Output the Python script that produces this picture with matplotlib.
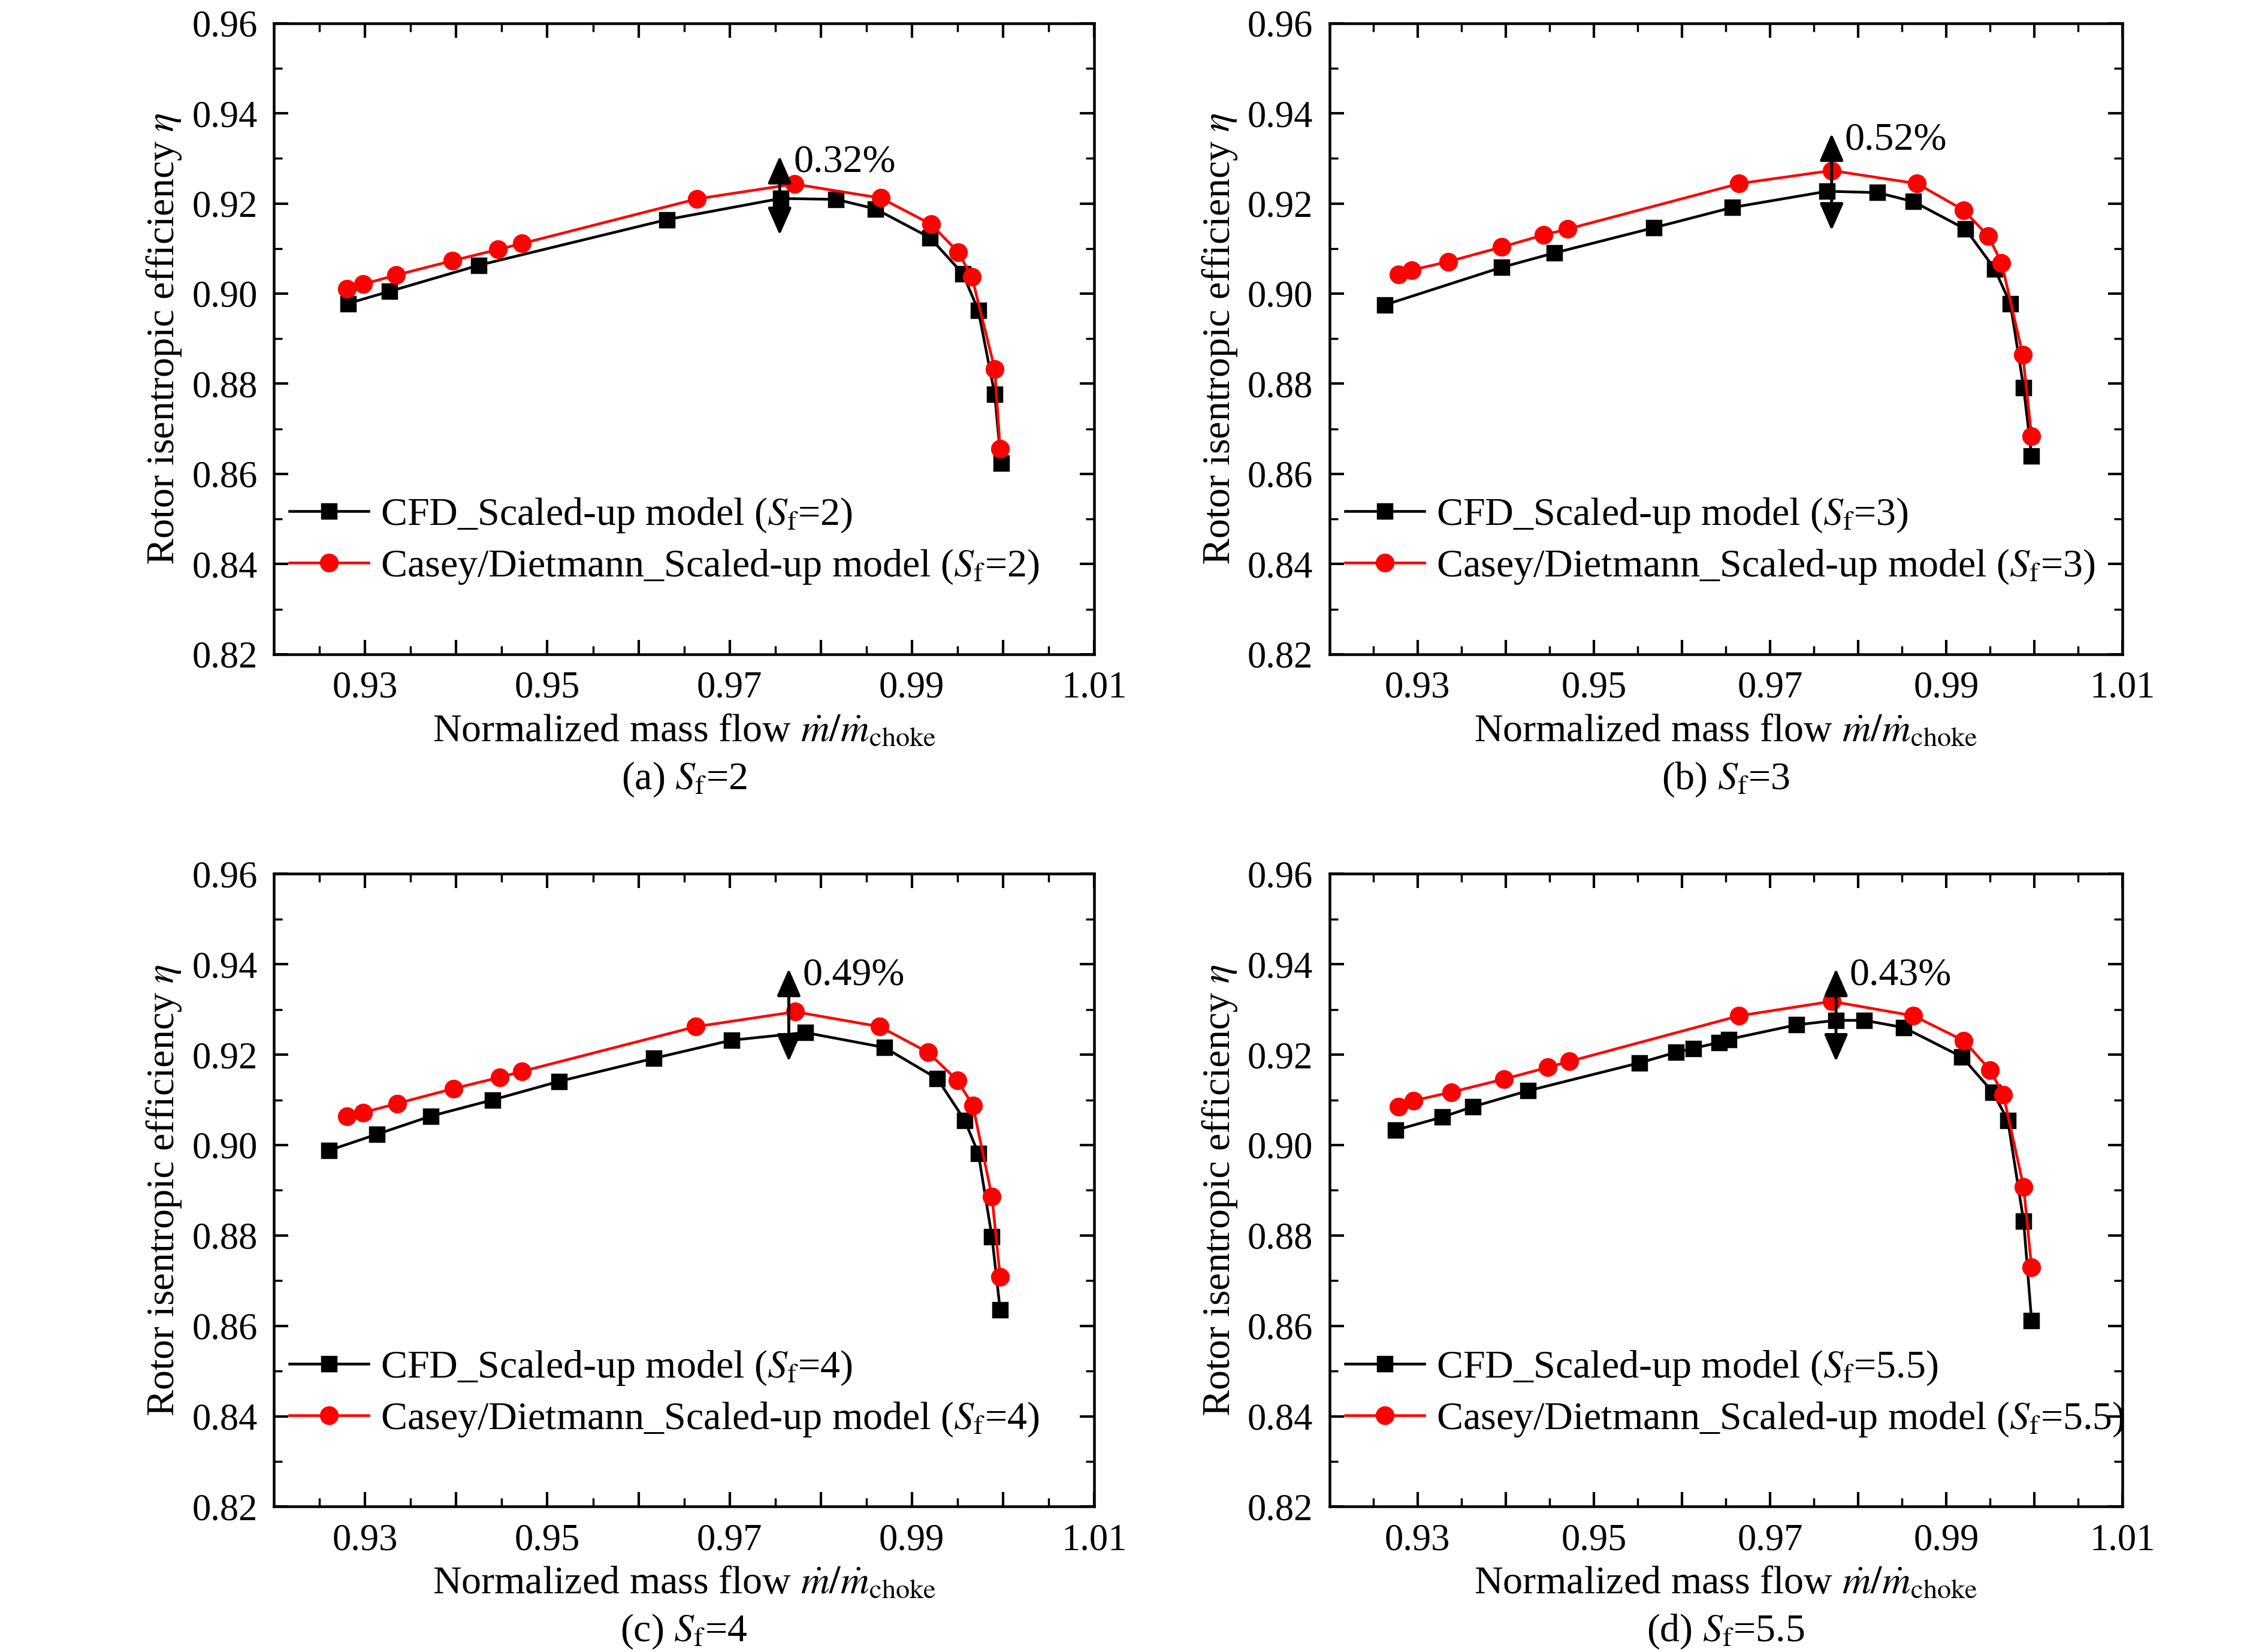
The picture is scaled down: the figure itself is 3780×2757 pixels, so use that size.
import numpy as np
import matplotlib
matplotlib.use("Agg")
import matplotlib.pyplot as plt

plt.rcParams["font.family"] = "serif"
plt.rcParams["font.serif"] = ["Liberation Serif", "DejaVu Serif"]
plt.rcParams["mathtext.fontset"] = "stix"

sf_labels = ["2", "3", "4", "5.5"]
captions = ["(a)", "(b)", "(c)", "(d)"]

cfd_x_a = [0.9281, 0.9327, 0.9425, 0.9631, 0.9756, 0.9817, 0.9860, 0.9920, 0.9956, 0.9973, 0.9991, 0.9998]
cfd_y_a = [0.8978, 0.9005, 0.9063, 0.9164, 0.9211, 0.9209, 0.9188, 0.9124, 0.9044, 0.8963, 0.8777, 0.8624]
cd_x_a = [0.9280, 0.9298, 0.9334, 0.9396, 0.9446, 0.9472, 0.9664, 0.9771, 0.9866, 0.9921, 0.9951, 0.9966, 0.9991, 0.9997]
cd_y_a = [0.9011, 0.9021, 0.9041, 0.9073, 0.9098, 0.9111, 0.9210, 0.9243, 0.9212, 0.9154, 0.9092, 0.9037, 0.8833, 0.8655]

cfd_x_b = [0.9263, 0.9395, 0.9455, 0.9568, 0.9657, 0.9765, 0.9822, 0.9863, 0.9922, 0.9955, 0.9973, 0.9988, 0.9997]
cfd_y_b = [0.8975, 0.9058, 0.9090, 0.9146, 0.9191, 0.9227, 0.9224, 0.9204, 0.9143, 0.9055, 0.8977, 0.8791, 0.8640]
cd_x_b = [0.9278, 0.9293, 0.9335, 0.9395, 0.9443, 0.9470, 0.9665, 0.9770, 0.9867, 0.9920, 0.9948, 0.9963, 0.9987, 0.9997]
cd_y_b = [0.9042, 0.9052, 0.9071, 0.9103, 0.9130, 0.9143, 0.9244, 0.9273, 0.9244, 0.9185, 0.9127, 0.9068, 0.8864, 0.8684]

cfd_x_c = [0.9260, 0.9313, 0.9372, 0.9440, 0.9513, 0.9617, 0.9702, 0.9783, 0.9870, 0.9928, 0.9958, 0.9973, 0.9988, 0.9997]
cfd_y_c = [0.8988, 0.9024, 0.9064, 0.9100, 0.9141, 0.9192, 0.9232, 0.9249, 0.9216, 0.9147, 0.9055, 0.8982, 0.8797, 0.8635]
cd_x_c = [0.9280, 0.9298, 0.9335, 0.9397, 0.9448, 0.9472, 0.9663, 0.9772, 0.9865, 0.9918, 0.9950, 0.9967, 0.9988, 0.9997]
cd_y_c = [0.9063, 0.9072, 0.9092, 0.9125, 0.9150, 0.9163, 0.9262, 0.9295, 0.9262, 0.9205, 0.9143, 0.9088, 0.8886, 0.8708]

cfd_x_d = [0.9275, 0.9328, 0.9363, 0.9425, 0.9552, 0.9593, 0.9613, 0.9642, 0.9653, 0.9730, 0.9775, 0.9807, 0.9852, 0.9918, 0.9953, 0.9970, 0.9988, 0.9997]
cfd_y_d = [0.9033, 0.9062, 0.9085, 0.9120, 0.9182, 0.9205, 0.9214, 0.9227, 0.9234, 0.9266, 0.9276, 0.9276, 0.9260, 0.9195, 0.9117, 0.9055, 0.8831, 0.8612]
cd_x_d = [0.9278, 0.9295, 0.9338, 0.9398, 0.9448, 0.9472, 0.9665, 0.9770, 0.9863, 0.9920, 0.9950, 0.9965, 0.9988, 0.9997]
cd_y_d = [0.9085, 0.9098, 0.9117, 0.9146, 0.9172, 0.9185, 0.9286, 0.9318, 0.9286, 0.9231, 0.9166, 0.9111, 0.8907, 0.8729]

cfd_x = [cfd_x_a, cfd_x_b, cfd_x_c, cfd_x_d]
cfd_y = [cfd_y_a, cfd_y_b, cfd_y_c, cfd_y_d]
cd_x = [cd_x_a, cd_x_b, cd_x_c, cd_x_d]
cd_y = [cd_y_a, cd_y_b, cd_y_c, cd_y_d]

# arrow x, arrow bottom, arrow top, label
arrow_x = [0.9755, 0.9770, 0.9765, 0.9775]
arrow_lo = [0.9130, 0.9140, 0.9185, 0.9185]
arrow_hi = [0.9305, 0.9355, 0.9390, 0.9390]
arrow_txt = ["0.32%", "0.52%", "0.49%", "0.43%"]

fig = plt.figure(figsize=(15.12, 11.028), dpi=250)
boxes = [[0.121, 0.604, 0.362, 0.382], [0.587, 0.604, 0.350, 0.382],
         [0.121, 0.088, 0.362, 0.383], [0.587, 0.088, 0.350, 0.383]]

for i in range(4):
    ax = fig.add_axes(boxes[i])
    sf = sf_labels[i]
    ax.plot(cfd_x[i], cfd_y[i], "-s", color="black", ms=7, lw=1.3,
            label=r"CFD_Scaled-up model ($S_\mathrm{f}$=%s)" % sf)
    ax.plot(cd_x[i], cd_y[i], "-o", color="red", mec="red", ms=8, lw=1.3,
            label=r"Casey/Dietmann_Scaled-up model ($S_\mathrm{f}$=%s)" % sf)
    ax.annotate("", xy=(arrow_x[i], arrow_hi[i]), xytext=(arrow_x[i], arrow_lo[i]),
                arrowprops=dict(arrowstyle="<|-|>,head_length=0.8,head_width=0.35", color="black",
                                lw=1.4, mutation_scale=14, shrinkA=0, shrinkB=0))
    ax.text(arrow_x[i] + 0.0015, arrow_hi[i] - 0.0035, arrow_txt[i], fontsize=19)
    ax.set_xlim(0.92, 1.0097)
    ax.set_ylim(0.82, 0.96)
    ax.set_xticks(np.arange(0.93, 1.015, 0.01))
    ax.set_xticklabels(["0.93", "", "0.95", "", "0.97", "", "0.99", "", "1.01"])
    ax.set_xticks(np.arange(0.925, 1.01, 0.01), minor=True)
    ax.set_yticks(np.arange(0.82, 0.961, 0.02))
    ax.set_yticklabels(["%.2f" % v for v in np.arange(0.82, 0.961, 0.02)])
    ax.set_yticks(np.arange(0.83, 0.96, 0.02), minor=True)
    ax.tick_params(which="both", direction="in", top=True, right=True, labelsize=18, pad=8)
    ax.tick_params(which="major", length=7, width=1.2)
    ax.tick_params(which="minor", length=4, width=1.0)
    for s in ax.spines.values():
        s.set_linewidth(1.3)
    ax.set_ylabel(r"Rotor isentropic efficiency $\eta$", fontsize=19)
    ax.set_xlabel(r"Normalized mass flow $\dot{m}/\dot{m}_\mathrm{choke}$" + "\n"
                  + captions[i] + r" $S_\mathrm{f}$=" + sf, fontsize=19, linespacing=1.4)
    ax.legend(loc="lower left", bbox_to_anchor=(-0.01, 0.07), frameon=False, fontsize=19,
              handlelength=2.0, handletextpad=0.3, borderaxespad=0.2, labelspacing=0.35)

fig.savefig("out.png")
